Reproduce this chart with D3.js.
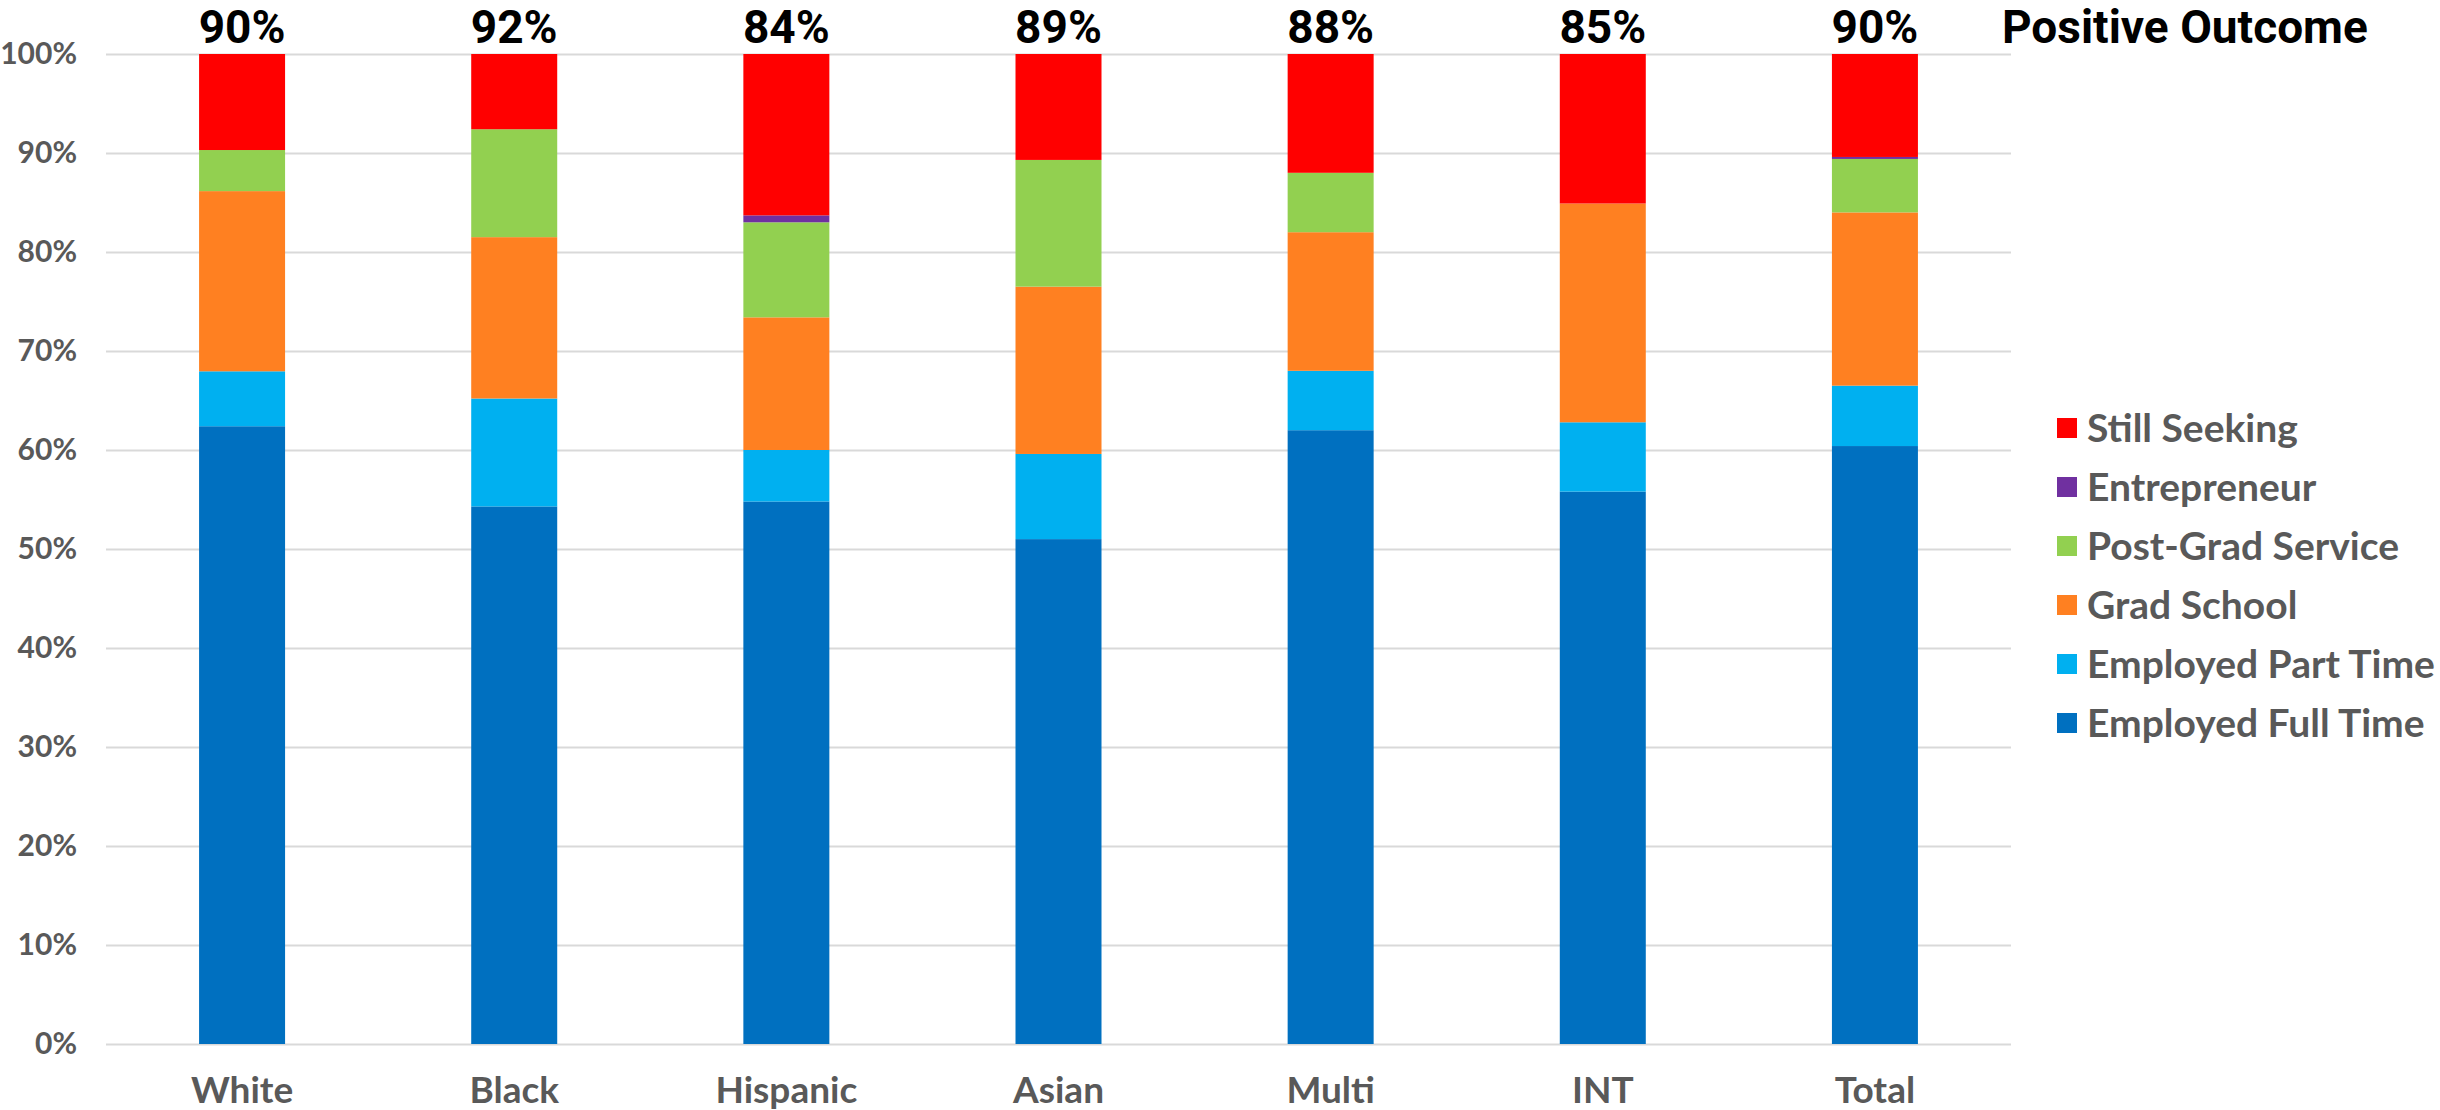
<!DOCTYPE html>
<html>
<head>
<meta charset="utf-8">
<script src="https://cdn.jsdelivr.net/npm/d3@7"></script>
<style>
  html, body { margin: 0; padding: 0; background: #ffffff; }
  svg { display: block; }
</style>
</head>
<body>
<svg id="chart" width="2440" height="1110"></svg>
<script>
// Graduate outcomes by group, percent of graduates in each outcome
const categories = ["White", "Black", "Hispanic", "Asian", "Multi", "INT", "Total"];
const employedFullTime = [62.4, 54.3, 54.8, 51.0, 62.0, 55.8, 60.4];
const employedPartTime = [5.55, 10.9, 5.2, 8.6, 6.0, 7.0, 6.1];
const gradSchool       = [18.2, 16.3, 13.4, 16.9, 14.0, 22.1, 17.5];
const postGradService  = [4.15, 10.9, 9.6, 12.8, 6.0, 0.0, 5.4];
const entrepreneur     = [0.0, 0.0, 0.7, 0.0, 0.0, 0.0, 0.2];
const stillSeeking     = [9.7, 7.6, 16.3, 10.7, 12.0, 15.1, 10.4];

const seriesNames = ["Employed Full Time", "Employed Part Time", "Grad School",
                     "Post-Grad Service", "Entrepreneur", "Still Seeking"];
const seriesColors = ["#0070C0", "#00B0F0", "#FF8021", "#92D050", "#7030A0", "#FF0000"];
const yTickValues = [0, 0.1, 0.2, 0.3, 0.4, 0.5, 0.6, 0.7, 0.8, 0.9, 1.0];
const headerLabel = "Positive Outcome";

const seriesValues = [employedFullTime, employedPartTime, gradSchool,
                      postGradService, entrepreneur, stillSeeking];

// one row per group, fractions of 1
const rows = categories.map((c, i) => {
  const r = { category: c };
  seriesNames.forEach((s, k) => { r[s] = seriesValues[k][i] / 100; });
  return r;
});

const svg = d3.select("#chart");
const plot = { left: 106, right: 2011, top: 54, bottom: 1044 };

const x = d3.scaleBand()
  .domain(categories)
  .range([plot.left, plot.right])
  .paddingInner(0.684)
  .paddingOuter(0.342);

const y = d3.scaleLinear()
  .domain([0, 1])
  .range([plot.bottom, plot.top]);

const color = d3.scaleOrdinal().domain(seriesNames).range(seriesColors);

const grayText = "#595959";
const labelFont = "Lato, 'Open Sans', sans-serif";
const headFont = "Roboto, 'Open Sans', sans-serif";

// horizontal gridlines
const grid = svg.append("g")
  .attr("transform", `translate(${plot.left},0)`)
  .call(d3.axisLeft(y).tickValues(yTickValues).tickSize(-(plot.right - plot.left)).tickFormat(""));
grid.select(".domain").remove();
grid.selectAll(".tick line").attr("stroke", "#d9d9d9").attr("stroke-width", 2.2);

// stacked bars
const stacked = d3.stack().keys(seriesNames)(rows);
svg.append("g")
  .selectAll("g")
  .data(stacked)
  .join("g")
  .attr("fill", d => color(d.key))
  .selectAll("rect")
  .data(d => d)
  .join("rect")
  .attr("x", d => x(d.data.category))
  .attr("width", x.bandwidth())
  .attr("y", d => y(d[1]))
  .attr("height", d => Math.max(0, y(d[0]) - y(d[1])));

// y axis labels
const yAxis = svg.append("g")
  .attr("transform", `translate(${plot.left},0)`)
  .call(d3.axisLeft(y).tickValues(yTickValues).tickSize(0).tickPadding(29).tickFormat(d3.format(".0%")));
yAxis.select(".domain").remove();
yAxis.selectAll("text")
  .attr("fill", grayText)
  .style("font-family", labelFont)
  .style("font-weight", 700)
  .style("font-size", "30px");

// x axis labels
const xAxis = svg.append("g")
  .attr("transform", `translate(0,${plot.bottom})`)
  .call(d3.axisBottom(x).tickSize(0).tickPadding(33));
xAxis.select(".domain").remove();
xAxis.selectAll("text")
  .attr("fill", grayText)
  .style("font-family", labelFont)
  .style("font-weight", 700)
  .style("font-size", "37px");

// positive outcome share above each bar (everything except still seeking)
svg.append("g")
  .selectAll("text")
  .data(rows)
  .join("text")
  .attr("x", d => x(d.category) + x.bandwidth() / 2)
  .attr("y", 43)
  .attr("text-anchor", "middle")
  .style("font-family", headFont)
  .style("font-weight", 700)
  .style("font-size", "46px")
  .attr("fill", "#000000")
  .text(d => Math.round((1 - d["Still Seeking"]) * 100) + "%");

svg.append("text")
  .attr("x", 2002)
  .attr("y", 43)
  .style("font-family", headFont)
  .style("font-weight", 700)
  .style("font-size", "46px")
  .attr("fill", "#000000")
  .text(headerLabel);

// legend, top series first
const legendItems = seriesNames.slice().reverse();
const legend = svg.append("g")
  .selectAll("g")
  .data(legendItems)
  .join("g")
  .attr("transform", (d, i) => `translate(2057,${428 + i * 59})`);
legend.append("rect")
  .attr("x", 0).attr("y", -10)
  .attr("width", 20).attr("height", 20)
  .attr("fill", d => color(d));
legend.append("text")
  .attr("x", 30)
  .attr("y", 0)
  .attr("dy", "0.36em")
  .attr("fill", grayText)
  .style("font-family", labelFont)
  .style("font-weight", 700)
  .style("font-size", "39px")
  .text(d => d);
</script>
</body>
</html>
